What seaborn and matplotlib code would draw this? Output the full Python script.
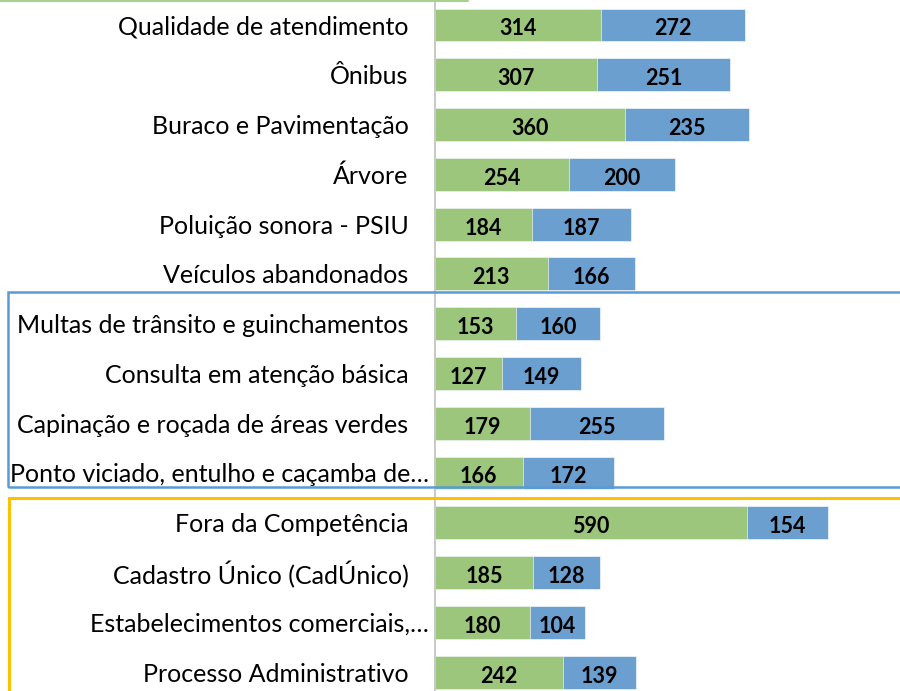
import matplotlib
matplotlib.use("Agg")
import matplotlib.pyplot as plt
import matplotlib.patches as mpatches
import matplotlib.lines as mlines
import matplotlib.transforms as mtransforms
import pandas as pd
import seaborn as sns

categories = [
    "Qualidade de atendimento",
    "Ônibus",
    "Buraco e Pavimentação",
    "Árvore",
    "Poluição sonora - PSIU",
    "Veículos abandonados",
    "Multas de trânsito e guinchamentos",
    "Consulta em atenção básica",
    "Capinação e roçada de áreas verdes",
    "Ponto viciado, entulho e caçamba de…",
    "Fora da Competência",
    "Cadastro Único (CadÚnico)",
    "Estabelecimentos comerciais,…",
    "Processo Administrativo",
]
green_values = [314, 307, 360, 254, 184, 213, 153, 127, 179, 166, 590, 185, 180, 242]
blue_values = [272, 251, 235, 200, 187, 166, 160, 149, 255, 172, 154, 128, 104, 139]

GREEN = "#9BC67B"
BLUE = "#6A9FCF"

df = pd.DataFrame({"categoria": categories,
                   "verde": green_values,
                   "azul": blue_values})
df["total"] = df["verde"] + df["azul"]

sns.set_style("white")
plt.rcParams["font.family"] = ["Lato", "DejaVu Sans"]

fig = plt.figure(figsize=(9, 6.91), dpi=100)
ax = fig.add_axes([435 / 900, 0, 1 - 435 / 900, 1])

sns.barplot(data=df, x="total", y="categoria", color=BLUE, width=0.66,
            saturation=1, edgecolor="white", linewidth=0.4, ax=ax)
sns.barplot(data=df, x="verde", y="categoria", color=GREEN, width=0.66,
            saturation=1, edgecolor="white", linewidth=0.4, ax=ax)

for i, row in df.iterrows():
    ax.text(row["verde"] / 2, i + 0.04, str(row["verde"]), ha="center",
            va="center_baseline", fontsize=15.5, fontweight="bold", color="black")
    ax.text(row["verde"] + row["azul"] / 2, i + 0.04, str(row["azul"]),
            ha="center", va="center_baseline", fontsize=15.5,
            fontweight="bold", color="black")

ax.set_xlim(0, 880)
ax.set_ylim(13.38, -0.502)
ax.set_xlabel("")
ax.set_ylabel("")
ax.set_xticks([])
ax.tick_params(axis="y", length=0, pad=19, labelsize=18, labelcolor="black")
# rótulos truncados ficam mais à direita, como no original
for lbl in ax.get_yticklabels():
    if lbl.get_text().endswith("…"):
        lbl.set_transform(lbl.get_transform() + mtransforms.ScaledTranslation(
            20 / 100, 0, fig.dpi_scale_trans))
for side in ["top", "right", "bottom"]:
    ax.spines[side].set_visible(False)
ax.spines["left"].set_color("#C8C8C8")
ax.spines["left"].set_linewidth(1.4)

# molduras de destaque (em coordenadas da figura)
W, H = 900, 691
fig.add_artist(mpatches.Rectangle((8 / W, 1 - 487 / H), 1.1, (487 - 292) / H,
                                  transform=fig.transFigure, fill=False,
                                  edgecolor="#5B9BD5", linewidth=1.8,
                                  clip_on=False))
fig.add_artist(mpatches.Rectangle((9 / W, -0.2), 1.1, 0.2 + 1 - 498 / H,
                                  transform=fig.transFigure, fill=False,
                                  edgecolor="#FFC000", linewidth=2.2,
                                  clip_on=False))
fig.add_artist(mlines.Line2D([0, 468 / W], [1 - 1 / H, 1 - 1 / H],
                             transform=fig.transFigure, color="#A9D18E",
                             linewidth=1.5))

fig.savefig("out.png", dpi=100)
